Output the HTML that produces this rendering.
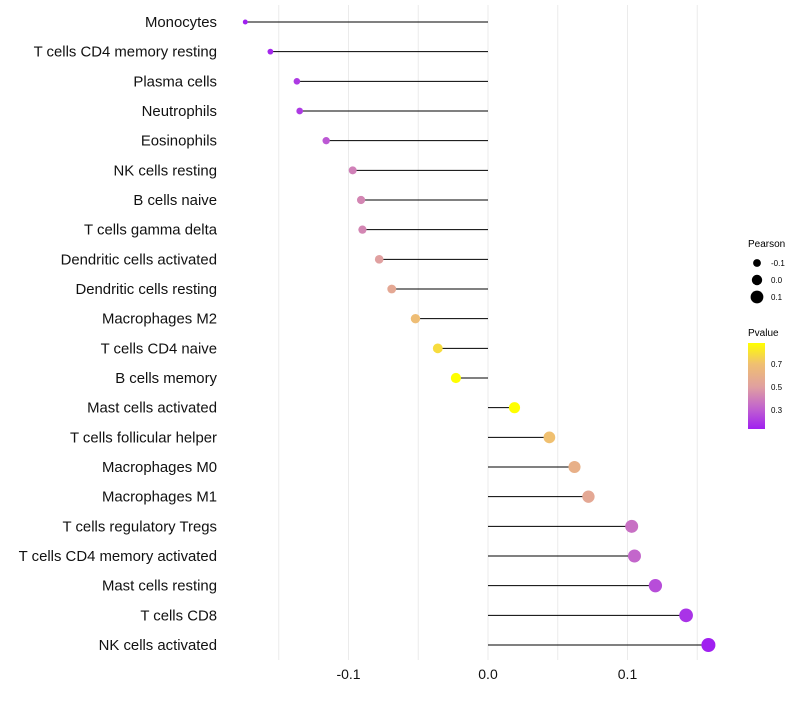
<!DOCTYPE html>
<html><head><meta charset="utf-8"><style>
body{margin:0;background:#fff;}
svg{font-family:"Liberation Sans",sans-serif;}
</style></head><body>
<svg id="chart" width="800" height="700">
<defs><linearGradient id="pgrad" x1="0" y1="1" x2="0" y2="0">
<stop offset="0" stop-color="#a020f0"/><stop offset="0.23" stop-color="#c060d0"/><stop offset="0.49" stop-color="#e0a0a0"/><stop offset="0.76" stop-color="#f0c070"/><stop offset="1" stop-color="#ffff00"/>
</linearGradient></defs>
<g id="grid"></g><g id="marks"></g><g id="labels"></g>
<g>
<text x="748" y="247" font-size="10">Pearson</text>
<circle cx="757" cy="263" r="3.9" fill="#000"/><text x="771" y="266" font-size="8">-0.1</text>
<circle cx="757" cy="280" r="5.2" fill="#000"/><text x="771" y="283" font-size="8">0.0</text>
<circle cx="757" cy="297" r="6.4" fill="#000"/><text x="771" y="300" font-size="8">0.1</text>
<text x="748" y="336" font-size="10">Pvalue</text>
<rect x="748" y="343" width="17" height="86" fill="url(#pgrad)"/>
<text x="771" y="367" font-size="8">0.7</text>
<text x="771" y="390" font-size="8">0.5</text>
<text x="771" y="413" font-size="8">0.3</text>
</g>
</svg>
<script>
const categories=["Monocytes","T cells CD4 memory resting","Plasma cells","Neutrophils","Eosinophils","NK cells resting","B cells naive","T cells gamma delta","Dendritic cells activated","Dendritic cells resting","Macrophages M2","T cells CD4 naive","B cells memory","Mast cells activated","T cells follicular helper","Macrophages M0","Macrophages M1","T cells regulatory  Tregs ","T cells CD4 memory activated","Mast cells resting","T cells CD8","NK cells activated"];
const pearson=[-0.174,-0.156,-0.137,-0.135,-0.116,-0.097,-0.091,-0.090,-0.078,-0.069,-0.052,-0.036,-0.023,0.019,0.044,0.062,0.072,0.103,0.105,0.120,0.142,0.158];
const pvalue=[0.13,0.15,0.2,0.2,0.28,0.4,0.42,0.42,0.5,0.55,0.68,0.78,0.88,0.88,0.7,0.6,0.55,0.35,0.32,0.25,0.18,0.13];
const xTicks=[-0.1,0.0,0.1];
const xTickLabels=["-0.1","0.0","0.1"];
const NS="http://www.w3.org/2000/svg";
const xs=v=>488+v*1395;
const ys=i=>22+i*(623/21);
const rs=v=>Math.sqrt(Math.max(1,6+(v+0.174)*130));
const stops=[[0.13,[160,32,240]],[0.3,[192,96,208]],[0.5,[224,160,160]],[0.7,[240,192,112]],[0.88,[255,255,0]]];
function col(p){p=Math.max(0.13,Math.min(0.88,p));for(let k=0;k<stops.length-1;k++){const[a,ca]=stops[k],[b,cb]=stops[k+1];if(p<=b){const t=(p-a)/(b-a);return`rgb(${ca.map((c,j)=>Math.round(c+(cb[j]-c)*t)).join(",")})`;}}return"rgb(255,255,0)";}
function mk(t,a,parent){const e=document.createElementNS(NS,t);for(const k in a)e.setAttribute(k,a[k]);parent.appendChild(e);return e;}
const grid=document.getElementById("grid"),marks=document.getElementById("marks"),labels=document.getElementById("labels");
for(let v=-0.15;v<=0.151;v+=0.05){const g=mk("line",{x1:xs(v),x2:xs(v),y1:5,y2:660,stroke:"#ebebeb","stroke-width":1},grid);

}
xTicks.forEach((t,i)=>{const e=mk("text",{x:xs(t),y:679,"text-anchor":"middle","font-size":14,fill:"#111"},labels);e.textContent=xTickLabels[i];

});
categories.forEach((c,i)=>{
const y=ys(i);
const t=mk("text",{x:217,y:y+5,"text-anchor":"end","font-size":14.9,fill:"#111"},labels);t.textContent=c;


const l=mk("line",{x1:xs(0),x2:xs(pearson[i]),y1:y,y2:y,stroke:"#000","stroke-width":1},marks);


const p=mk("circle",{cx:xs(pearson[i]),cy:y,r:rs(pearson[i]),fill:col(pvalue[i])},marks);


});
</script>
</body></html>
